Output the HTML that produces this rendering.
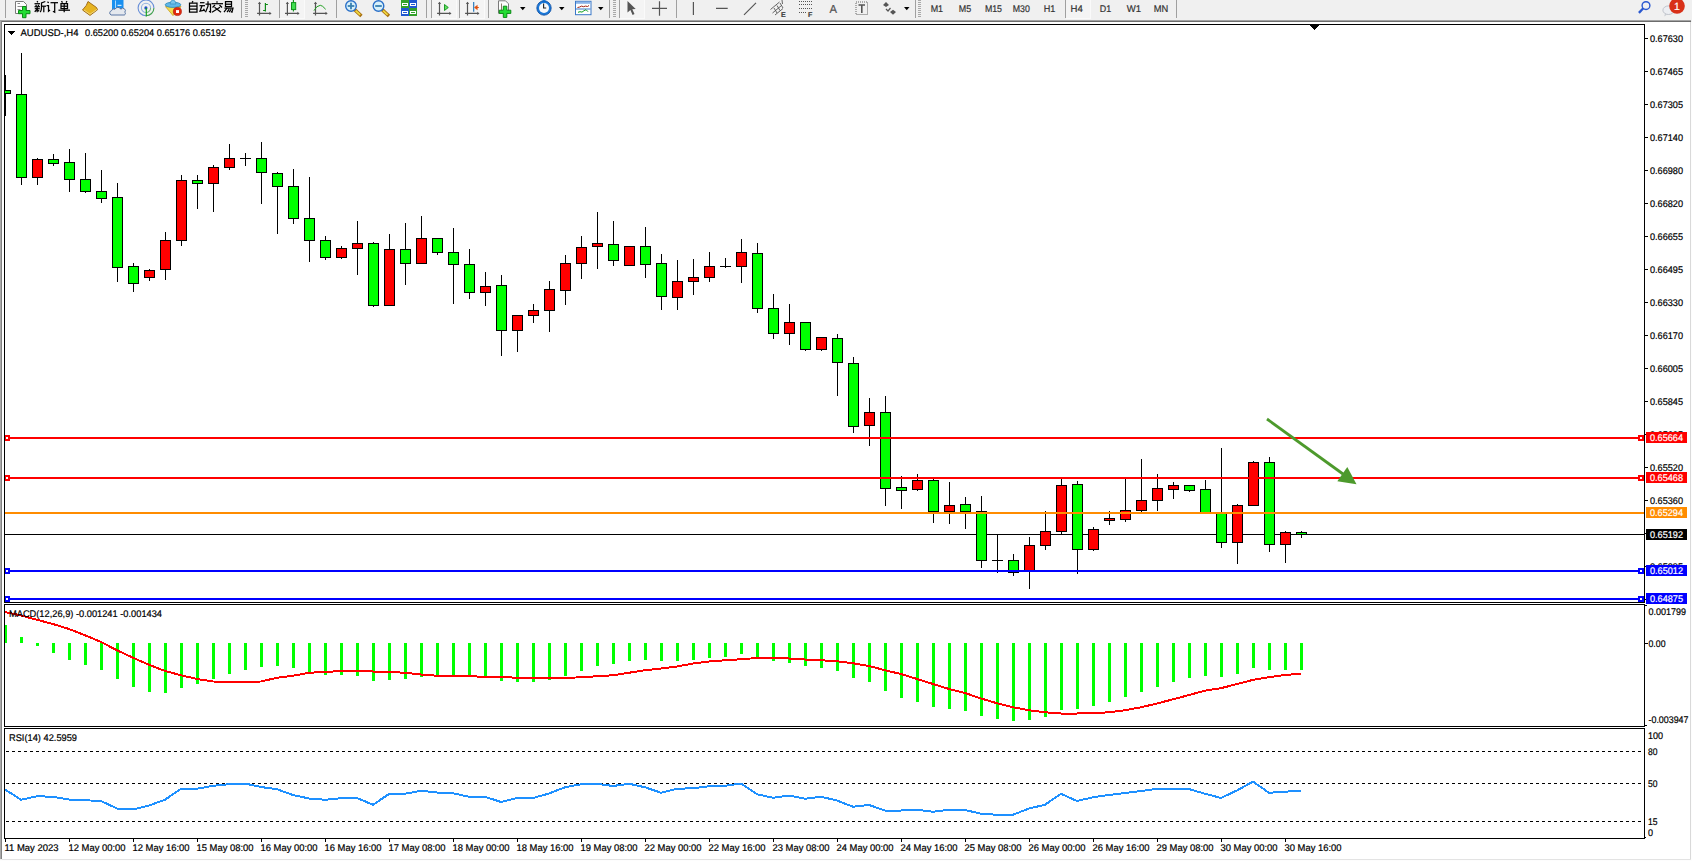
<!DOCTYPE html>
<html><head><meta charset="utf-8"><style>
html,body{margin:0;padding:0;background:#fff;overflow:hidden}
svg{display:block;font-family:"Liberation Sans",sans-serif}
text{stroke-width:0.2px;text-rendering:geometricPrecision}
</style></head><body>
<svg width="1692" height="861" viewBox="0 0 1692 861" shape-rendering="crispEdges">
<rect x="0" y="0" width="1692" height="861" fill="#f0f0f0"/>
<rect x="2" y="22" width="1688" height="837" fill="#ffffff"/>
<rect x="0" y="20" width="1691" height="1" fill="#a4a4a4"/>
<rect x="0" y="21" width="1691" height="1" fill="#6c6c6c"/>
<rect x="0" y="21" width="1" height="838" fill="#aaaaaa"/>
<rect x="1" y="21" width="1" height="838" fill="#828282"/>
<rect x="1690" y="22" width="1" height="838" fill="#d9d9d9"/>
<rect x="2" y="859" width="1689" height="1" fill="#e3e3e3"/>
<rect x="1691" y="22" width="1" height="839" fill="#fdfdfd"/>
<rect x="0" y="860" width="1692" height="1" fill="#fdfdfd"/>
<defs><clipPath id="cm"><rect x="5" y="25" width="1639" height="577"/></clipPath><clipPath id="cd"><rect x="5" y="605" width="1639" height="121"/></clipPath><clipPath id="cr"><rect x="5" y="729" width="1639" height="109"/></clipPath></defs>
<g clip-path="url(#cm)">
<rect x="5" y="534" width="1639" height="1" fill="#000"/>
<rect x="5" y="75" width="1" height="15" fill="#000"/>
<rect x="5" y="94" width="1" height="22" fill="#000"/>
<rect x="0" y="90" width="11" height="4" fill="#000"/>
<rect x="1" y="91" width="9" height="2" fill="#00ff00"/>
<rect x="21" y="53" width="1" height="41" fill="#000"/>
<rect x="21" y="178" width="1" height="7" fill="#000"/>
<rect x="16" y="94" width="11" height="84" fill="#000"/>
<rect x="17" y="95" width="9" height="82" fill="#00ff00"/>
<rect x="37" y="158" width="1" height="1" fill="#000"/>
<rect x="37" y="178" width="1" height="7" fill="#000"/>
<rect x="32" y="159" width="11" height="19" fill="#000"/>
<rect x="33" y="160" width="9" height="17" fill="#ff0000"/>
<rect x="53" y="154" width="1" height="5" fill="#000"/>
<rect x="53" y="164" width="1" height="2" fill="#000"/>
<rect x="48" y="159" width="11" height="5" fill="#000"/>
<rect x="49" y="160" width="9" height="3" fill="#00ff00"/>
<rect x="69" y="149" width="1" height="13" fill="#000"/>
<rect x="69" y="180" width="1" height="12" fill="#000"/>
<rect x="64" y="162" width="11" height="18" fill="#000"/>
<rect x="65" y="163" width="9" height="16" fill="#00ff00"/>
<rect x="85" y="153" width="1" height="26" fill="#000"/>
<rect x="85" y="192" width="1" height="1" fill="#000"/>
<rect x="80" y="179" width="11" height="13" fill="#000"/>
<rect x="81" y="180" width="9" height="11" fill="#00ff00"/>
<rect x="101" y="170" width="1" height="21" fill="#000"/>
<rect x="101" y="199" width="1" height="4" fill="#000"/>
<rect x="96" y="191" width="11" height="8" fill="#000"/>
<rect x="97" y="192" width="9" height="6" fill="#00ff00"/>
<rect x="117" y="183" width="1" height="14" fill="#000"/>
<rect x="117" y="268" width="1" height="14" fill="#000"/>
<rect x="112" y="197" width="11" height="71" fill="#000"/>
<rect x="113" y="198" width="9" height="69" fill="#00ff00"/>
<rect x="133" y="263" width="1" height="3" fill="#000"/>
<rect x="133" y="284" width="1" height="8" fill="#000"/>
<rect x="128" y="266" width="11" height="18" fill="#000"/>
<rect x="129" y="267" width="9" height="16" fill="#00ff00"/>
<rect x="149" y="269" width="1" height="1" fill="#000"/>
<rect x="149" y="278" width="1" height="3" fill="#000"/>
<rect x="144" y="270" width="11" height="8" fill="#000"/>
<rect x="145" y="271" width="9" height="6" fill="#ff0000"/>
<rect x="165" y="232" width="1" height="8" fill="#000"/>
<rect x="165" y="270" width="1" height="10" fill="#000"/>
<rect x="160" y="240" width="11" height="30" fill="#000"/>
<rect x="161" y="241" width="9" height="28" fill="#ff0000"/>
<rect x="181" y="175" width="1" height="5" fill="#000"/>
<rect x="181" y="241" width="1" height="5" fill="#000"/>
<rect x="176" y="180" width="11" height="61" fill="#000"/>
<rect x="177" y="181" width="9" height="59" fill="#ff0000"/>
<rect x="197" y="175" width="1" height="5" fill="#000"/>
<rect x="197" y="184" width="1" height="25" fill="#000"/>
<rect x="192" y="180" width="11" height="4" fill="#000"/>
<rect x="193" y="181" width="9" height="2" fill="#00ff00"/>
<rect x="213" y="165" width="1" height="2" fill="#000"/>
<rect x="213" y="184" width="1" height="28" fill="#000"/>
<rect x="208" y="167" width="11" height="17" fill="#000"/>
<rect x="209" y="168" width="9" height="15" fill="#ff0000"/>
<rect x="229" y="144" width="1" height="14" fill="#000"/>
<rect x="229" y="168" width="1" height="2" fill="#000"/>
<rect x="224" y="158" width="11" height="10" fill="#000"/>
<rect x="225" y="159" width="9" height="8" fill="#ff0000"/>
<rect x="245" y="153" width="1" height="13" fill="#000"/>
<rect x="240" y="158" width="11" height="1" fill="#000"/>
<rect x="261" y="142" width="1" height="16" fill="#000"/>
<rect x="261" y="173" width="1" height="31" fill="#000"/>
<rect x="256" y="158" width="11" height="15" fill="#000"/>
<rect x="257" y="159" width="9" height="13" fill="#00ff00"/>
<rect x="277" y="172" width="1" height="1" fill="#000"/>
<rect x="277" y="187" width="1" height="47" fill="#000"/>
<rect x="272" y="173" width="11" height="14" fill="#000"/>
<rect x="273" y="174" width="9" height="12" fill="#00ff00"/>
<rect x="293" y="169" width="1" height="17" fill="#000"/>
<rect x="293" y="219" width="1" height="5" fill="#000"/>
<rect x="288" y="186" width="11" height="33" fill="#000"/>
<rect x="289" y="187" width="9" height="31" fill="#00ff00"/>
<rect x="309" y="177" width="1" height="41" fill="#000"/>
<rect x="309" y="241" width="1" height="21" fill="#000"/>
<rect x="304" y="218" width="11" height="23" fill="#000"/>
<rect x="305" y="219" width="9" height="21" fill="#00ff00"/>
<rect x="325" y="236" width="1" height="4" fill="#000"/>
<rect x="325" y="258" width="1" height="2" fill="#000"/>
<rect x="320" y="240" width="11" height="18" fill="#000"/>
<rect x="321" y="241" width="9" height="16" fill="#00ff00"/>
<rect x="341" y="246" width="1" height="2" fill="#000"/>
<rect x="341" y="258" width="1" height="1" fill="#000"/>
<rect x="336" y="248" width="11" height="10" fill="#000"/>
<rect x="337" y="249" width="9" height="8" fill="#ff0000"/>
<rect x="357" y="221" width="1" height="22" fill="#000"/>
<rect x="357" y="249" width="1" height="26" fill="#000"/>
<rect x="352" y="243" width="11" height="6" fill="#000"/>
<rect x="353" y="244" width="9" height="4" fill="#ff0000"/>
<rect x="373" y="242" width="1" height="1" fill="#000"/>
<rect x="373" y="306" width="1" height="1" fill="#000"/>
<rect x="368" y="243" width="11" height="63" fill="#000"/>
<rect x="369" y="244" width="9" height="61" fill="#00ff00"/>
<rect x="389" y="234" width="1" height="15" fill="#000"/>
<rect x="384" y="249" width="11" height="57" fill="#000"/>
<rect x="385" y="250" width="9" height="55" fill="#ff0000"/>
<rect x="405" y="223" width="1" height="26" fill="#000"/>
<rect x="405" y="264" width="1" height="21" fill="#000"/>
<rect x="400" y="249" width="11" height="15" fill="#000"/>
<rect x="401" y="250" width="9" height="13" fill="#00ff00"/>
<rect x="421" y="216" width="1" height="22" fill="#000"/>
<rect x="416" y="238" width="11" height="26" fill="#000"/>
<rect x="417" y="239" width="9" height="24" fill="#ff0000"/>
<rect x="437" y="253" width="1" height="2" fill="#000"/>
<rect x="432" y="238" width="11" height="15" fill="#000"/>
<rect x="433" y="239" width="9" height="13" fill="#00ff00"/>
<rect x="453" y="228" width="1" height="24" fill="#000"/>
<rect x="453" y="265" width="1" height="39" fill="#000"/>
<rect x="448" y="252" width="11" height="13" fill="#000"/>
<rect x="449" y="253" width="9" height="11" fill="#00ff00"/>
<rect x="469" y="249" width="1" height="15" fill="#000"/>
<rect x="469" y="293" width="1" height="6" fill="#000"/>
<rect x="464" y="264" width="11" height="29" fill="#000"/>
<rect x="465" y="265" width="9" height="27" fill="#00ff00"/>
<rect x="485" y="272" width="1" height="14" fill="#000"/>
<rect x="485" y="293" width="1" height="13" fill="#000"/>
<rect x="480" y="286" width="11" height="7" fill="#000"/>
<rect x="481" y="287" width="9" height="5" fill="#ff0000"/>
<rect x="501" y="275" width="1" height="10" fill="#000"/>
<rect x="501" y="331" width="1" height="25" fill="#000"/>
<rect x="496" y="285" width="11" height="46" fill="#000"/>
<rect x="497" y="286" width="9" height="44" fill="#00ff00"/>
<rect x="517" y="331" width="1" height="21" fill="#000"/>
<rect x="512" y="315" width="11" height="16" fill="#000"/>
<rect x="513" y="316" width="9" height="14" fill="#ff0000"/>
<rect x="533" y="304" width="1" height="6" fill="#000"/>
<rect x="533" y="316" width="1" height="7" fill="#000"/>
<rect x="528" y="310" width="11" height="6" fill="#000"/>
<rect x="529" y="311" width="9" height="4" fill="#ff0000"/>
<rect x="549" y="281" width="1" height="8" fill="#000"/>
<rect x="549" y="311" width="1" height="21" fill="#000"/>
<rect x="544" y="289" width="11" height="22" fill="#000"/>
<rect x="545" y="290" width="9" height="20" fill="#ff0000"/>
<rect x="565" y="255" width="1" height="8" fill="#000"/>
<rect x="565" y="291" width="1" height="14" fill="#000"/>
<rect x="560" y="263" width="11" height="28" fill="#000"/>
<rect x="561" y="264" width="9" height="26" fill="#ff0000"/>
<rect x="581" y="236" width="1" height="11" fill="#000"/>
<rect x="581" y="264" width="1" height="15" fill="#000"/>
<rect x="576" y="247" width="11" height="17" fill="#000"/>
<rect x="577" y="248" width="9" height="15" fill="#ff0000"/>
<rect x="597" y="212" width="1" height="31" fill="#000"/>
<rect x="597" y="247" width="1" height="22" fill="#000"/>
<rect x="592" y="243" width="11" height="4" fill="#000"/>
<rect x="593" y="244" width="9" height="2" fill="#ff0000"/>
<rect x="613" y="221" width="1" height="23" fill="#000"/>
<rect x="613" y="261" width="1" height="5" fill="#000"/>
<rect x="608" y="244" width="11" height="17" fill="#000"/>
<rect x="609" y="245" width="9" height="15" fill="#00ff00"/>
<rect x="624" y="246" width="11" height="20" fill="#000"/>
<rect x="625" y="247" width="9" height="18" fill="#ff0000"/>
<rect x="645" y="227" width="1" height="19" fill="#000"/>
<rect x="645" y="265" width="1" height="13" fill="#000"/>
<rect x="640" y="246" width="11" height="19" fill="#000"/>
<rect x="641" y="247" width="9" height="17" fill="#00ff00"/>
<rect x="661" y="254" width="1" height="9" fill="#000"/>
<rect x="661" y="297" width="1" height="13" fill="#000"/>
<rect x="656" y="263" width="11" height="34" fill="#000"/>
<rect x="657" y="264" width="9" height="32" fill="#00ff00"/>
<rect x="677" y="260" width="1" height="21" fill="#000"/>
<rect x="677" y="298" width="1" height="12" fill="#000"/>
<rect x="672" y="281" width="11" height="17" fill="#000"/>
<rect x="673" y="282" width="9" height="15" fill="#ff0000"/>
<rect x="693" y="259" width="1" height="18" fill="#000"/>
<rect x="693" y="282" width="1" height="13" fill="#000"/>
<rect x="688" y="277" width="11" height="5" fill="#000"/>
<rect x="689" y="278" width="9" height="3" fill="#ff0000"/>
<rect x="709" y="252" width="1" height="14" fill="#000"/>
<rect x="709" y="278" width="1" height="4" fill="#000"/>
<rect x="704" y="266" width="11" height="12" fill="#000"/>
<rect x="705" y="267" width="9" height="10" fill="#ff0000"/>
<rect x="725" y="258" width="1" height="10" fill="#000"/>
<rect x="720" y="266" width="11" height="1" fill="#000"/>
<rect x="741" y="239" width="1" height="13" fill="#000"/>
<rect x="741" y="267" width="1" height="16" fill="#000"/>
<rect x="736" y="252" width="11" height="15" fill="#000"/>
<rect x="737" y="253" width="9" height="13" fill="#ff0000"/>
<rect x="757" y="243" width="1" height="10" fill="#000"/>
<rect x="757" y="309" width="1" height="4" fill="#000"/>
<rect x="752" y="253" width="11" height="56" fill="#000"/>
<rect x="753" y="254" width="9" height="54" fill="#00ff00"/>
<rect x="773" y="294" width="1" height="14" fill="#000"/>
<rect x="773" y="334" width="1" height="5" fill="#000"/>
<rect x="768" y="308" width="11" height="26" fill="#000"/>
<rect x="769" y="309" width="9" height="24" fill="#00ff00"/>
<rect x="789" y="304" width="1" height="18" fill="#000"/>
<rect x="789" y="334" width="1" height="11" fill="#000"/>
<rect x="784" y="322" width="11" height="12" fill="#000"/>
<rect x="785" y="323" width="9" height="10" fill="#ff0000"/>
<rect x="805" y="350" width="1" height="1" fill="#000"/>
<rect x="800" y="322" width="11" height="28" fill="#000"/>
<rect x="801" y="323" width="9" height="26" fill="#00ff00"/>
<rect x="821" y="350" width="1" height="1" fill="#000"/>
<rect x="816" y="337" width="11" height="13" fill="#000"/>
<rect x="817" y="338" width="9" height="11" fill="#ff0000"/>
<rect x="837" y="334" width="1" height="4" fill="#000"/>
<rect x="837" y="363" width="1" height="33" fill="#000"/>
<rect x="832" y="338" width="11" height="25" fill="#000"/>
<rect x="833" y="339" width="9" height="23" fill="#00ff00"/>
<rect x="853" y="357" width="1" height="6" fill="#000"/>
<rect x="853" y="427" width="1" height="6" fill="#000"/>
<rect x="848" y="363" width="11" height="64" fill="#000"/>
<rect x="849" y="364" width="9" height="62" fill="#00ff00"/>
<rect x="869" y="398" width="1" height="14" fill="#000"/>
<rect x="869" y="426" width="1" height="20" fill="#000"/>
<rect x="864" y="412" width="11" height="14" fill="#000"/>
<rect x="865" y="413" width="9" height="12" fill="#ff0000"/>
<rect x="885" y="396" width="1" height="16" fill="#000"/>
<rect x="885" y="489" width="1" height="17" fill="#000"/>
<rect x="880" y="412" width="11" height="77" fill="#000"/>
<rect x="881" y="413" width="9" height="75" fill="#00ff00"/>
<rect x="901" y="476" width="1" height="11" fill="#000"/>
<rect x="901" y="491" width="1" height="18" fill="#000"/>
<rect x="896" y="487" width="11" height="4" fill="#000"/>
<rect x="897" y="488" width="9" height="2" fill="#00ff00"/>
<rect x="917" y="474" width="1" height="6" fill="#000"/>
<rect x="917" y="490" width="1" height="1" fill="#000"/>
<rect x="912" y="480" width="11" height="10" fill="#000"/>
<rect x="913" y="481" width="9" height="8" fill="#ff0000"/>
<rect x="933" y="479" width="1" height="1" fill="#000"/>
<rect x="933" y="512" width="1" height="11" fill="#000"/>
<rect x="928" y="480" width="11" height="32" fill="#000"/>
<rect x="929" y="481" width="9" height="30" fill="#00ff00"/>
<rect x="949" y="482" width="1" height="23" fill="#000"/>
<rect x="949" y="512" width="1" height="12" fill="#000"/>
<rect x="944" y="505" width="11" height="7" fill="#000"/>
<rect x="945" y="506" width="9" height="5" fill="#ff0000"/>
<rect x="965" y="497" width="1" height="7" fill="#000"/>
<rect x="965" y="512" width="1" height="17" fill="#000"/>
<rect x="960" y="504" width="11" height="8" fill="#000"/>
<rect x="961" y="505" width="9" height="6" fill="#00ff00"/>
<rect x="981" y="496" width="1" height="15" fill="#000"/>
<rect x="981" y="561" width="1" height="7" fill="#000"/>
<rect x="976" y="511" width="11" height="50" fill="#000"/>
<rect x="977" y="512" width="9" height="48" fill="#00ff00"/>
<rect x="997" y="534" width="1" height="39" fill="#000"/>
<rect x="992" y="560" width="11" height="1" fill="#000"/>
<rect x="1013" y="554" width="1" height="6" fill="#000"/>
<rect x="1013" y="573" width="1" height="3" fill="#000"/>
<rect x="1008" y="560" width="11" height="13" fill="#000"/>
<rect x="1009" y="561" width="9" height="11" fill="#00ff00"/>
<rect x="1029" y="537" width="1" height="8" fill="#000"/>
<rect x="1029" y="571" width="1" height="18" fill="#000"/>
<rect x="1024" y="545" width="11" height="26" fill="#000"/>
<rect x="1025" y="546" width="9" height="24" fill="#ff0000"/>
<rect x="1045" y="511" width="1" height="20" fill="#000"/>
<rect x="1045" y="546" width="1" height="4" fill="#000"/>
<rect x="1040" y="531" width="11" height="15" fill="#000"/>
<rect x="1041" y="532" width="9" height="13" fill="#ff0000"/>
<rect x="1061" y="478" width="1" height="7" fill="#000"/>
<rect x="1061" y="532" width="1" height="3" fill="#000"/>
<rect x="1056" y="485" width="11" height="47" fill="#000"/>
<rect x="1057" y="486" width="9" height="45" fill="#ff0000"/>
<rect x="1077" y="481" width="1" height="3" fill="#000"/>
<rect x="1077" y="550" width="1" height="24" fill="#000"/>
<rect x="1072" y="484" width="11" height="66" fill="#000"/>
<rect x="1073" y="485" width="9" height="64" fill="#00ff00"/>
<rect x="1093" y="527" width="1" height="2" fill="#000"/>
<rect x="1093" y="550" width="1" height="1" fill="#000"/>
<rect x="1088" y="529" width="11" height="21" fill="#000"/>
<rect x="1089" y="530" width="9" height="19" fill="#ff0000"/>
<rect x="1109" y="511" width="1" height="7" fill="#000"/>
<rect x="1109" y="521" width="1" height="4" fill="#000"/>
<rect x="1104" y="518" width="11" height="3" fill="#000"/>
<rect x="1105" y="519" width="9" height="1" fill="#ff0000"/>
<rect x="1125" y="479" width="1" height="31" fill="#000"/>
<rect x="1125" y="520" width="1" height="2" fill="#000"/>
<rect x="1120" y="510" width="11" height="10" fill="#000"/>
<rect x="1121" y="511" width="9" height="8" fill="#ff0000"/>
<rect x="1141" y="459" width="1" height="41" fill="#000"/>
<rect x="1141" y="511" width="1" height="1" fill="#000"/>
<rect x="1136" y="500" width="11" height="11" fill="#000"/>
<rect x="1137" y="501" width="9" height="9" fill="#ff0000"/>
<rect x="1157" y="474" width="1" height="14" fill="#000"/>
<rect x="1157" y="501" width="1" height="10" fill="#000"/>
<rect x="1152" y="488" width="11" height="13" fill="#000"/>
<rect x="1153" y="489" width="9" height="11" fill="#ff0000"/>
<rect x="1173" y="482" width="1" height="3" fill="#000"/>
<rect x="1173" y="490" width="1" height="9" fill="#000"/>
<rect x="1168" y="485" width="11" height="5" fill="#000"/>
<rect x="1169" y="486" width="9" height="3" fill="#ff0000"/>
<rect x="1189" y="491" width="1" height="1" fill="#000"/>
<rect x="1184" y="485" width="11" height="6" fill="#000"/>
<rect x="1185" y="486" width="9" height="4" fill="#00ff00"/>
<rect x="1205" y="480" width="1" height="9" fill="#000"/>
<rect x="1200" y="489" width="11" height="24" fill="#000"/>
<rect x="1201" y="490" width="9" height="22" fill="#00ff00"/>
<rect x="1221" y="448" width="1" height="65" fill="#000"/>
<rect x="1221" y="543" width="1" height="5" fill="#000"/>
<rect x="1216" y="513" width="11" height="30" fill="#000"/>
<rect x="1217" y="514" width="9" height="28" fill="#00ff00"/>
<rect x="1237" y="504" width="1" height="1" fill="#000"/>
<rect x="1237" y="543" width="1" height="21" fill="#000"/>
<rect x="1232" y="505" width="11" height="38" fill="#000"/>
<rect x="1233" y="506" width="9" height="36" fill="#ff0000"/>
<rect x="1253" y="461" width="1" height="1" fill="#000"/>
<rect x="1248" y="462" width="11" height="44" fill="#000"/>
<rect x="1249" y="463" width="9" height="42" fill="#ff0000"/>
<rect x="1269" y="457" width="1" height="5" fill="#000"/>
<rect x="1269" y="545" width="1" height="7" fill="#000"/>
<rect x="1264" y="462" width="11" height="83" fill="#000"/>
<rect x="1265" y="463" width="9" height="81" fill="#00ff00"/>
<rect x="1285" y="531" width="1" height="1" fill="#000"/>
<rect x="1285" y="545" width="1" height="18" fill="#000"/>
<rect x="1280" y="532" width="11" height="13" fill="#000"/>
<rect x="1281" y="533" width="9" height="11" fill="#ff0000"/>
<rect x="1301" y="531" width="1" height="1" fill="#000"/>
<rect x="1301" y="535" width="1" height="3" fill="#000"/>
<rect x="1296" y="532" width="11" height="3" fill="#000"/>
<rect x="1297" y="533" width="9" height="1" fill="#00ff00"/>
<rect x="5" y="437" width="1639" height="2" fill="#ff0000"/>
<rect x="5" y="477" width="1639" height="2" fill="#ff0000"/>
<rect x="5" y="512" width="1639" height="2" fill="#ff8c00"/>
<rect x="5" y="570" width="1639" height="2" fill="#0000ff"/>
<rect x="5" y="598" width="1639" height="2" fill="#0000ff"/>
</g>
<rect x="4" y="435" width="6" height="6" fill="#ff0000"/>
<rect x="6" y="437" width="2" height="2" fill="#fff"/>
<rect x="1638" y="435" width="6" height="6" fill="#ff0000"/>
<rect x="1640" y="437" width="2" height="2" fill="#fff"/>
<rect x="4" y="475" width="6" height="6" fill="#ff0000"/>
<rect x="6" y="477" width="2" height="2" fill="#fff"/>
<rect x="1638" y="475" width="6" height="6" fill="#ff0000"/>
<rect x="1640" y="477" width="2" height="2" fill="#fff"/>
<rect x="4" y="568" width="6" height="6" fill="#0000ff"/>
<rect x="6" y="570" width="2" height="2" fill="#fff"/>
<rect x="1638" y="568" width="6" height="6" fill="#0000ff"/>
<rect x="1640" y="570" width="2" height="2" fill="#fff"/>
<rect x="4" y="596" width="6" height="6" fill="#0000ff"/>
<rect x="6" y="598" width="2" height="2" fill="#fff"/>
<rect x="1638" y="596" width="6" height="6" fill="#0000ff"/>
<rect x="1640" y="598" width="2" height="2" fill="#fff"/>
<rect x="4" y="24" width="1641" height="1" fill="#000"/>
<rect x="4" y="602" width="1641" height="1" fill="#000"/>
<rect x="4" y="24" width="1" height="579" fill="#000"/>
<rect x="1644" y="24" width="1" height="579" fill="#000"/>
<line x1="1267" y1="419" x2="1343" y2="474" stroke="#4d9a2c" stroke-width="2.8" shape-rendering="geometricPrecision"/>
<polygon points="1347.3,467 1337.3,481.3 1356.5,484.2" fill="#4d9a2c" shape-rendering="geometricPrecision"/>
<polygon points="1309.5,25 1319.5,25 1314.5,30" fill="#000"/>
<polygon points="8,31 15,31 11.5,35" fill="#000"/>
<text x="20.5" y="35.5" font-size="9.7" fill="#000" stroke="#000" textLength="58" lengthAdjust="spacingAndGlyphs">AUDUSD-,H4</text>
<text x="85" y="35.5" font-size="9.7" fill="#000" stroke="#000" textLength="141" lengthAdjust="spacingAndGlyphs">0.65200 0.65204 0.65176 0.65192</text>
<rect x="1645" y="38" width="3" height="1" fill="#000"/>
<text x="1650" y="42" font-size="9.7" fill="#000" stroke="#000" textLength="33" lengthAdjust="spacingAndGlyphs">0.67630</text>
<rect x="1645" y="71" width="3" height="1" fill="#000"/>
<text x="1650" y="75" font-size="9.7" fill="#000" stroke="#000" textLength="33" lengthAdjust="spacingAndGlyphs">0.67465</text>
<rect x="1645" y="104" width="3" height="1" fill="#000"/>
<text x="1650" y="108" font-size="9.7" fill="#000" stroke="#000" textLength="33" lengthAdjust="spacingAndGlyphs">0.67305</text>
<rect x="1645" y="137" width="3" height="1" fill="#000"/>
<text x="1650" y="141" font-size="9.7" fill="#000" stroke="#000" textLength="33" lengthAdjust="spacingAndGlyphs">0.67140</text>
<rect x="1645" y="170" width="3" height="1" fill="#000"/>
<text x="1650" y="174" font-size="9.7" fill="#000" stroke="#000" textLength="33" lengthAdjust="spacingAndGlyphs">0.66980</text>
<rect x="1645" y="203" width="3" height="1" fill="#000"/>
<text x="1650" y="207" font-size="9.7" fill="#000" stroke="#000" textLength="33" lengthAdjust="spacingAndGlyphs">0.66820</text>
<rect x="1645" y="236" width="3" height="1" fill="#000"/>
<text x="1650" y="240" font-size="9.7" fill="#000" stroke="#000" textLength="33" lengthAdjust="spacingAndGlyphs">0.66655</text>
<rect x="1645" y="269" width="3" height="1" fill="#000"/>
<text x="1650" y="273" font-size="9.7" fill="#000" stroke="#000" textLength="33" lengthAdjust="spacingAndGlyphs">0.66495</text>
<rect x="1645" y="302" width="3" height="1" fill="#000"/>
<text x="1650" y="306" font-size="9.7" fill="#000" stroke="#000" textLength="33" lengthAdjust="spacingAndGlyphs">0.66330</text>
<rect x="1645" y="335" width="3" height="1" fill="#000"/>
<text x="1650" y="339" font-size="9.7" fill="#000" stroke="#000" textLength="33" lengthAdjust="spacingAndGlyphs">0.66170</text>
<rect x="1645" y="368" width="3" height="1" fill="#000"/>
<text x="1650" y="372" font-size="9.7" fill="#000" stroke="#000" textLength="33" lengthAdjust="spacingAndGlyphs">0.66005</text>
<rect x="1645" y="401" width="3" height="1" fill="#000"/>
<text x="1650" y="405" font-size="9.7" fill="#000" stroke="#000" textLength="33" lengthAdjust="spacingAndGlyphs">0.65845</text>
<rect x="1645" y="434" width="3" height="1" fill="#000"/>
<text x="1650" y="438" font-size="9.7" fill="#000" stroke="#000" textLength="33" lengthAdjust="spacingAndGlyphs">0.65685</text>
<rect x="1645" y="467" width="3" height="1" fill="#000"/>
<text x="1650" y="471" font-size="9.7" fill="#000" stroke="#000" textLength="33" lengthAdjust="spacingAndGlyphs">0.65520</text>
<rect x="1645" y="500" width="3" height="1" fill="#000"/>
<text x="1650" y="504" font-size="9.7" fill="#000" stroke="#000" textLength="33" lengthAdjust="spacingAndGlyphs">0.65360</text>
<rect x="1645" y="533" width="3" height="1" fill="#000"/>
<text x="1650" y="537" font-size="9.7" fill="#000" stroke="#000" textLength="33" lengthAdjust="spacingAndGlyphs">0.65195</text>
<rect x="1645" y="566" width="3" height="1" fill="#000"/>
<text x="1650" y="570" font-size="9.7" fill="#000" stroke="#000" textLength="33" lengthAdjust="spacingAndGlyphs">0.65035</text>
<rect x="1645" y="599" width="3" height="1" fill="#000"/>
<text x="1650" y="603" font-size="9.7" fill="#000" stroke="#000" textLength="33" lengthAdjust="spacingAndGlyphs">0.64875</text>
<rect x="1646" y="432" width="41" height="11" fill="#ff0000"/>
<text x="1650" y="440.5" font-size="9.7" fill="#fff" stroke="#fff" textLength="33" lengthAdjust="spacingAndGlyphs">0.65664</text>
<rect x="1646" y="472" width="41" height="11" fill="#ff0000"/>
<text x="1650" y="480.5" font-size="9.7" fill="#fff" stroke="#fff" textLength="33" lengthAdjust="spacingAndGlyphs">0.65468</text>
<rect x="1646" y="507" width="41" height="11" fill="#ff8c00"/>
<text x="1650" y="515.5" font-size="9.7" fill="#fff" stroke="#fff" textLength="33" lengthAdjust="spacingAndGlyphs">0.65294</text>
<rect x="1646" y="529" width="41" height="11" fill="#000000"/>
<text x="1650" y="537.5" font-size="9.7" fill="#fff" stroke="#fff" textLength="33" lengthAdjust="spacingAndGlyphs">0.65192</text>
<rect x="1646" y="565" width="41" height="11" fill="#0000ff"/>
<text x="1650" y="573.5" font-size="9.7" fill="#fff" stroke="#fff" textLength="33" lengthAdjust="spacingAndGlyphs">0.65012</text>
<rect x="1646" y="593" width="41" height="11" fill="#0000ff"/>
<text x="1650" y="601.5" font-size="9.7" fill="#fff" stroke="#fff" textLength="33" lengthAdjust="spacingAndGlyphs">0.64875</text>
<rect x="4" y="604" width="1641" height="1" fill="#000"/>
<rect x="4" y="726" width="1641" height="1" fill="#000"/>
<rect x="4" y="604" width="1" height="123" fill="#000"/>
<rect x="1644" y="604" width="1" height="123" fill="#000"/>
<g clip-path="url(#cd)">
<rect x="4" y="625" width="3" height="18" fill="#00ff00"/>
<rect x="20" y="637" width="3" height="6" fill="#00ff00"/>
<rect x="36" y="643" width="3" height="3" fill="#00ff00"/>
<rect x="52" y="643" width="3" height="10" fill="#00ff00"/>
<rect x="68" y="643" width="3" height="17" fill="#00ff00"/>
<rect x="84" y="643" width="3" height="22" fill="#00ff00"/>
<rect x="100" y="643" width="3" height="27" fill="#00ff00"/>
<rect x="116" y="643" width="3" height="36" fill="#00ff00"/>
<rect x="132" y="643" width="3" height="44" fill="#00ff00"/>
<rect x="148" y="643" width="3" height="49" fill="#00ff00"/>
<rect x="164" y="643" width="3" height="50" fill="#00ff00"/>
<rect x="180" y="643" width="3" height="45" fill="#00ff00"/>
<rect x="196" y="643" width="3" height="41" fill="#00ff00"/>
<rect x="212" y="643" width="3" height="36" fill="#00ff00"/>
<rect x="228" y="643" width="3" height="31" fill="#00ff00"/>
<rect x="244" y="643" width="3" height="27" fill="#00ff00"/>
<rect x="260" y="643" width="3" height="24" fill="#00ff00"/>
<rect x="276" y="643" width="3" height="23" fill="#00ff00"/>
<rect x="292" y="643" width="3" height="25" fill="#00ff00"/>
<rect x="308" y="643" width="3" height="29" fill="#00ff00"/>
<rect x="324" y="643" width="3" height="32" fill="#00ff00"/>
<rect x="340" y="643" width="3" height="32" fill="#00ff00"/>
<rect x="356" y="643" width="3" height="33" fill="#00ff00"/>
<rect x="372" y="643" width="3" height="38" fill="#00ff00"/>
<rect x="388" y="643" width="3" height="37" fill="#00ff00"/>
<rect x="404" y="643" width="3" height="36" fill="#00ff00"/>
<rect x="420" y="643" width="3" height="34" fill="#00ff00"/>
<rect x="436" y="643" width="3" height="32" fill="#00ff00"/>
<rect x="452" y="643" width="3" height="32" fill="#00ff00"/>
<rect x="468" y="643" width="3" height="32" fill="#00ff00"/>
<rect x="484" y="643" width="3" height="34" fill="#00ff00"/>
<rect x="500" y="643" width="3" height="38" fill="#00ff00"/>
<rect x="516" y="643" width="3" height="39" fill="#00ff00"/>
<rect x="532" y="643" width="3" height="39" fill="#00ff00"/>
<rect x="548" y="643" width="3" height="37" fill="#00ff00"/>
<rect x="564" y="643" width="3" height="33" fill="#00ff00"/>
<rect x="580" y="643" width="3" height="28" fill="#00ff00"/>
<rect x="596" y="643" width="3" height="23" fill="#00ff00"/>
<rect x="612" y="643" width="3" height="21" fill="#00ff00"/>
<rect x="628" y="643" width="3" height="18" fill="#00ff00"/>
<rect x="644" y="643" width="3" height="17" fill="#00ff00"/>
<rect x="660" y="643" width="3" height="18" fill="#00ff00"/>
<rect x="676" y="643" width="3" height="18" fill="#00ff00"/>
<rect x="692" y="643" width="3" height="17" fill="#00ff00"/>
<rect x="708" y="643" width="3" height="15" fill="#00ff00"/>
<rect x="724" y="643" width="3" height="14" fill="#00ff00"/>
<rect x="740" y="643" width="3" height="11" fill="#00ff00"/>
<rect x="756" y="643" width="3" height="14" fill="#00ff00"/>
<rect x="772" y="643" width="3" height="18" fill="#00ff00"/>
<rect x="788" y="643" width="3" height="20" fill="#00ff00"/>
<rect x="804" y="643" width="3" height="23" fill="#00ff00"/>
<rect x="820" y="643" width="3" height="25" fill="#00ff00"/>
<rect x="836" y="643" width="3" height="28" fill="#00ff00"/>
<rect x="852" y="643" width="3" height="35" fill="#00ff00"/>
<rect x="868" y="643" width="3" height="39" fill="#00ff00"/>
<rect x="884" y="643" width="3" height="48" fill="#00ff00"/>
<rect x="900" y="643" width="3" height="55" fill="#00ff00"/>
<rect x="916" y="643" width="3" height="59" fill="#00ff00"/>
<rect x="932" y="643" width="3" height="64" fill="#00ff00"/>
<rect x="948" y="643" width="3" height="66" fill="#00ff00"/>
<rect x="964" y="643" width="3" height="68" fill="#00ff00"/>
<rect x="980" y="643" width="3" height="73" fill="#00ff00"/>
<rect x="996" y="643" width="3" height="76" fill="#00ff00"/>
<rect x="1012" y="643" width="3" height="78" fill="#00ff00"/>
<rect x="1028" y="643" width="3" height="77" fill="#00ff00"/>
<rect x="1044" y="643" width="3" height="74" fill="#00ff00"/>
<rect x="1060" y="643" width="3" height="67" fill="#00ff00"/>
<rect x="1076" y="643" width="3" height="66" fill="#00ff00"/>
<rect x="1092" y="643" width="3" height="63" fill="#00ff00"/>
<rect x="1108" y="643" width="3" height="59" fill="#00ff00"/>
<rect x="1124" y="643" width="3" height="54" fill="#00ff00"/>
<rect x="1140" y="643" width="3" height="49" fill="#00ff00"/>
<rect x="1156" y="643" width="3" height="44" fill="#00ff00"/>
<rect x="1172" y="643" width="3" height="39" fill="#00ff00"/>
<rect x="1188" y="643" width="3" height="35" fill="#00ff00"/>
<rect x="1204" y="643" width="3" height="33" fill="#00ff00"/>
<rect x="1220" y="643" width="3" height="34" fill="#00ff00"/>
<rect x="1236" y="643" width="3" height="31" fill="#00ff00"/>
<rect x="1252" y="643" width="3" height="25" fill="#00ff00"/>
<rect x="1268" y="643" width="3" height="27" fill="#00ff00"/>
<rect x="1284" y="643" width="3" height="27" fill="#00ff00"/>
<rect x="1300" y="643" width="3" height="27" fill="#00ff00"/>
<polyline points="5,612 21,615.5 37,619.75 53,624 69,629 85,635.25 101,642 117,650.25 133,657.75 149,664.75 165,671 181,675.25 197,679 213,681.5 229,681.75 245,681.75 261,681.5 277,677.75 293,675.75 309,672.75 325,672 341,671 357,671 373,671.5 389,672 405,672.75 421,674.5 437,675.75 453,676 469,676 485,677 501,677 517,677.75 533,678 549,678 565,678 581,677.25 597,676.25 613,675.25 629,672.75 645,670.25 661,668.5 677,666.5 693,663.5 709,661.5 725,660.25 741,659.25 757,658 773,657.75 789,658.5 805,659.5 821,660.25 837,661.25 853,663.25 869,666 885,670.25 901,674 917,679 933,684 949,689 965,693 981,698.5 997,703.25 1013,707.25 1029,710.25 1045,712.25 1061,713.5 1077,713.5 1093,713.25 1109,712.25 1125,710.25 1141,707.25 1157,703.5 1173,699.3 1189,695 1205,690.6 1221,688.2 1237,684 1253,679.9 1269,677.2 1285,674.9 1301,673.9" fill="none" stroke="#ff0000" stroke-width="2" shape-rendering="crispEdges"/>
</g>
<text x="9" y="617" font-size="9.7" fill="#000" stroke="#000" textLength="153" lengthAdjust="spacingAndGlyphs">MACD(12,26,9) -0.001241 -0.001434</text>
<rect x="1645" y="605" width="2" height="1" fill="#000"/>
<rect x="1645" y="643" width="3" height="1" fill="#000"/>
<rect x="1645" y="725" width="2" height="1" fill="#000"/>
<text x="1648.5" y="614.7" font-size="9.7" fill="#000" stroke="#000" textLength="37.5" lengthAdjust="spacingAndGlyphs">0.001799</text>
<text x="1648.5" y="646.5" font-size="9.7" fill="#000" stroke="#000" textLength="17" lengthAdjust="spacingAndGlyphs">0.00</text>
<text x="1648.5" y="722.5" font-size="9.7" fill="#000" stroke="#000" textLength="40" lengthAdjust="spacingAndGlyphs">-0.003947</text>
<rect x="4" y="728" width="1641" height="1" fill="#000"/>
<rect x="4" y="838" width="1641" height="1" fill="#000"/>
<rect x="4" y="728" width="1" height="111" fill="#000"/>
<rect x="1644" y="728" width="1" height="111" fill="#000"/>
<g clip-path="url(#cr)">
<line x1="6" y1="751.5" x2="1644" y2="751.5" stroke="#000" stroke-width="1" stroke-dasharray="3,3"/>
<line x1="6" y1="783.5" x2="1644" y2="783.5" stroke="#000" stroke-width="1" stroke-dasharray="3,3"/>
<line x1="6" y1="821.5" x2="1644" y2="821.5" stroke="#000" stroke-width="1" stroke-dasharray="3,3"/>
<polyline points="5,789.5 21,799.75 37,796.25 53,796.75 69,799.5 85,800.25 101,801 117,808.5 133,809.5 149,805.5 165,799.75 181,788.75 197,788.75 213,785.75 229,784.25 245,783.5 261,787 277,789.25 293,795 309,798.5 325,799.75 341,798.25 357,798 373,804.75 389,794 405,793.75 421,790.75 437,792.5 453,793.25 469,796.75 485,796.75 501,802 517,798 533,798 549,793.5 565,787.25 581,784.25 597,783.75 613,786 629,783.75 645,787.25 661,792.75 677,788.75 693,788.25 709,786.25 725,785.75 741,783.5 757,794.25 773,797.75 789,795.5 805,798.75 821,796.75 837,800.5 853,806.75 869,805 885,810.5 901,810.5 917,809.75 933,811.75 949,809.75 965,810 981,813.75 997,814.75 1013,814.75 1029,808.5 1045,804.75 1061,793.75 1077,801 1093,797.25 1109,795 1125,793 1141,791 1157,788.8 1173,788.9 1189,789.1 1205,793.7 1221,798 1237,790.4 1253,781.6 1269,792.8 1285,791.7 1301,790.8" fill="none" stroke="#1e90ff" stroke-width="2" shape-rendering="crispEdges"/>
</g>
<text x="9" y="741.2" font-size="9.7" fill="#000" stroke="#000" textLength="68" lengthAdjust="spacingAndGlyphs">RSI(14) 42.5959</text>
<text x="1648" y="739.0" font-size="9.7" fill="#000" stroke="#000" textLength="15" lengthAdjust="spacingAndGlyphs">100</text>
<text x="1648" y="755.0" font-size="9.7" fill="#000" stroke="#000" textLength="9.5" lengthAdjust="spacingAndGlyphs">80</text>
<text x="1648" y="787.0" font-size="9.7" fill="#000" stroke="#000" textLength="9.5" lengthAdjust="spacingAndGlyphs">50</text>
<text x="1648" y="825.0" font-size="9.7" fill="#000" stroke="#000" textLength="9.5" lengthAdjust="spacingAndGlyphs">15</text>
<text x="1648" y="835.5" font-size="9.7" fill="#000" stroke="#000" textLength="5" lengthAdjust="spacingAndGlyphs">0</text>
<rect x="1645" y="837" width="1" height="1" fill="#000"/>
<rect x="5" y="839" width="1" height="3" fill="#000"/>
<text x="4.5" y="850.6" font-size="9.7" fill="#000" stroke="#000" textLength="54" lengthAdjust="spacingAndGlyphs">11 May 2023</text>
<rect x="69" y="839" width="1" height="3" fill="#000"/>
<text x="68.5" y="850.6" font-size="9.7" fill="#000" stroke="#000" textLength="57" lengthAdjust="spacingAndGlyphs">12 May 00:00</text>
<rect x="133" y="839" width="1" height="3" fill="#000"/>
<text x="132.5" y="850.6" font-size="9.7" fill="#000" stroke="#000" textLength="57" lengthAdjust="spacingAndGlyphs">12 May 16:00</text>
<rect x="197" y="839" width="1" height="3" fill="#000"/>
<text x="196.5" y="850.6" font-size="9.7" fill="#000" stroke="#000" textLength="57" lengthAdjust="spacingAndGlyphs">15 May 08:00</text>
<rect x="261" y="839" width="1" height="3" fill="#000"/>
<text x="260.5" y="850.6" font-size="9.7" fill="#000" stroke="#000" textLength="57" lengthAdjust="spacingAndGlyphs">16 May 00:00</text>
<rect x="325" y="839" width="1" height="3" fill="#000"/>
<text x="324.5" y="850.6" font-size="9.7" fill="#000" stroke="#000" textLength="57" lengthAdjust="spacingAndGlyphs">16 May 16:00</text>
<rect x="389" y="839" width="1" height="3" fill="#000"/>
<text x="388.5" y="850.6" font-size="9.7" fill="#000" stroke="#000" textLength="57" lengthAdjust="spacingAndGlyphs">17 May 08:00</text>
<rect x="453" y="839" width="1" height="3" fill="#000"/>
<text x="452.5" y="850.6" font-size="9.7" fill="#000" stroke="#000" textLength="57" lengthAdjust="spacingAndGlyphs">18 May 00:00</text>
<rect x="517" y="839" width="1" height="3" fill="#000"/>
<text x="516.5" y="850.6" font-size="9.7" fill="#000" stroke="#000" textLength="57" lengthAdjust="spacingAndGlyphs">18 May 16:00</text>
<rect x="581" y="839" width="1" height="3" fill="#000"/>
<text x="580.5" y="850.6" font-size="9.7" fill="#000" stroke="#000" textLength="57" lengthAdjust="spacingAndGlyphs">19 May 08:00</text>
<rect x="645" y="839" width="1" height="3" fill="#000"/>
<text x="644.5" y="850.6" font-size="9.7" fill="#000" stroke="#000" textLength="57" lengthAdjust="spacingAndGlyphs">22 May 00:00</text>
<rect x="709" y="839" width="1" height="3" fill="#000"/>
<text x="708.5" y="850.6" font-size="9.7" fill="#000" stroke="#000" textLength="57" lengthAdjust="spacingAndGlyphs">22 May 16:00</text>
<rect x="773" y="839" width="1" height="3" fill="#000"/>
<text x="772.5" y="850.6" font-size="9.7" fill="#000" stroke="#000" textLength="57" lengthAdjust="spacingAndGlyphs">23 May 08:00</text>
<rect x="837" y="839" width="1" height="3" fill="#000"/>
<text x="836.5" y="850.6" font-size="9.7" fill="#000" stroke="#000" textLength="57" lengthAdjust="spacingAndGlyphs">24 May 00:00</text>
<rect x="901" y="839" width="1" height="3" fill="#000"/>
<text x="900.5" y="850.6" font-size="9.7" fill="#000" stroke="#000" textLength="57" lengthAdjust="spacingAndGlyphs">24 May 16:00</text>
<rect x="965" y="839" width="1" height="3" fill="#000"/>
<text x="964.5" y="850.6" font-size="9.7" fill="#000" stroke="#000" textLength="57" lengthAdjust="spacingAndGlyphs">25 May 08:00</text>
<rect x="1029" y="839" width="1" height="3" fill="#000"/>
<text x="1028.5" y="850.6" font-size="9.7" fill="#000" stroke="#000" textLength="57" lengthAdjust="spacingAndGlyphs">26 May 00:00</text>
<rect x="1093" y="839" width="1" height="3" fill="#000"/>
<text x="1092.5" y="850.6" font-size="9.7" fill="#000" stroke="#000" textLength="57" lengthAdjust="spacingAndGlyphs">26 May 16:00</text>
<rect x="1157" y="839" width="1" height="3" fill="#000"/>
<text x="1156.5" y="850.6" font-size="9.7" fill="#000" stroke="#000" textLength="57" lengthAdjust="spacingAndGlyphs">29 May 08:00</text>
<rect x="1221" y="839" width="1" height="3" fill="#000"/>
<text x="1220.5" y="850.6" font-size="9.7" fill="#000" stroke="#000" textLength="57" lengthAdjust="spacingAndGlyphs">30 May 00:00</text>
<rect x="1285" y="839" width="1" height="3" fill="#000"/>
<text x="1284.5" y="850.6" font-size="9.7" fill="#000" stroke="#000" textLength="57" lengthAdjust="spacingAndGlyphs">30 May 16:00</text>
<g shape-rendering="crispEdges">
<rect x="280" y="0" width="24" height="18" fill="#f4f4f4"/>
<rect x="280" y="18" width="25" height="1" fill="#fafafa"/>
<rect x="304" y="0" width="1" height="19" fill="#fafafa"/>
<rect x="432" y="0" width="24" height="18" fill="#f4f4f4"/>
<rect x="432" y="18" width="25" height="1" fill="#fafafa"/>
<rect x="456" y="0" width="1" height="19" fill="#fafafa"/>
<rect x="460" y="0" width="24" height="18" fill="#f4f4f4"/>
<rect x="460" y="18" width="25" height="1" fill="#fafafa"/>
<rect x="484" y="0" width="1" height="19" fill="#fafafa"/>
<rect x="620" y="0" width="24" height="18" fill="#f4f4f4"/>
<rect x="620" y="18" width="25" height="1" fill="#fafafa"/>
<rect x="644" y="0" width="1" height="19" fill="#fafafa"/>
<rect x="1066" y="0" width="24" height="18" fill="#f4f4f4"/>
<rect x="1066" y="18" width="25" height="1" fill="#fafafa"/>
<rect x="1090" y="0" width="1" height="19" fill="#fafafa"/>
<rect x="5" y="0" width="1" height="18" fill="#a0a0a0"/>
<rect x="241" y="0" width="1" height="18" fill="#a0a0a0"/>
<rect x="279" y="0" width="1" height="18" fill="#a0a0a0"/>
<rect x="336" y="0" width="1" height="18" fill="#a0a0a0"/>
<rect x="426" y="0" width="1" height="18" fill="#a0a0a0"/>
<rect x="431" y="0" width="1" height="18" fill="#a0a0a0"/>
<rect x="459" y="0" width="1" height="18" fill="#a0a0a0"/>
<rect x="488" y="0" width="1" height="18" fill="#a0a0a0"/>
<rect x="609" y="0" width="1" height="18" fill="#a0a0a0"/>
<rect x="619" y="0" width="1" height="18" fill="#a0a0a0"/>
<rect x="676" y="0" width="1" height="18" fill="#a0a0a0"/>
<rect x="915" y="0" width="1" height="18" fill="#a0a0a0"/>
<rect x="1065" y="0" width="1" height="18" fill="#a0a0a0"/>
<rect x="1176" y="0" width="1" height="18" fill="#a0a0a0"/>
<rect x="245" y="0" width="3" height="1" fill="#a8a8a8"/>
<rect x="245" y="2" width="3" height="1" fill="#a8a8a8"/>
<rect x="245" y="4" width="3" height="1" fill="#a8a8a8"/>
<rect x="245" y="6" width="3" height="1" fill="#a8a8a8"/>
<rect x="245" y="8" width="3" height="1" fill="#a8a8a8"/>
<rect x="245" y="10" width="3" height="1" fill="#a8a8a8"/>
<rect x="245" y="12" width="3" height="1" fill="#a8a8a8"/>
<rect x="245" y="14" width="3" height="1" fill="#a8a8a8"/>
<rect x="245" y="16" width="3" height="1" fill="#a8a8a8"/>
<rect x="613" y="0" width="3" height="1" fill="#a8a8a8"/>
<rect x="613" y="2" width="3" height="1" fill="#a8a8a8"/>
<rect x="613" y="4" width="3" height="1" fill="#a8a8a8"/>
<rect x="613" y="6" width="3" height="1" fill="#a8a8a8"/>
<rect x="613" y="8" width="3" height="1" fill="#a8a8a8"/>
<rect x="613" y="10" width="3" height="1" fill="#a8a8a8"/>
<rect x="613" y="12" width="3" height="1" fill="#a8a8a8"/>
<rect x="613" y="14" width="3" height="1" fill="#a8a8a8"/>
<rect x="613" y="16" width="3" height="1" fill="#a8a8a8"/>
<rect x="918" y="0" width="3" height="1" fill="#a8a8a8"/>
<rect x="918" y="2" width="3" height="1" fill="#a8a8a8"/>
<rect x="918" y="4" width="3" height="1" fill="#a8a8a8"/>
<rect x="918" y="6" width="3" height="1" fill="#a8a8a8"/>
<rect x="918" y="8" width="3" height="1" fill="#a8a8a8"/>
<rect x="918" y="10" width="3" height="1" fill="#a8a8a8"/>
<rect x="918" y="12" width="3" height="1" fill="#a8a8a8"/>
<rect x="918" y="14" width="3" height="1" fill="#a8a8a8"/>
<rect x="918" y="16" width="3" height="1" fill="#a8a8a8"/>
</g>
<g shape-rendering="geometricPrecision">
<path d="M15.5,1.5 h8 l3,3 v9 h-11 z" fill="#fdfdfd" stroke="#7a7a7a" stroke-width="1"/>
<path d="M17.5,3.5 h2.5 M17.5,6.5 h6 M17.5,9.5 h3" stroke="#8a8a8a" stroke-width="1"/>
<path d="M22.5,6.5 h3.5 v4 h4 v3.2 h-4 v4 h-3.5 v-4 h-4 v-3.2 h4 z" fill="#22dd33" stroke="#0a8a14" stroke-width="1"/>
<g transform="translate(34.5,1.2)" fill="none" stroke="#000" stroke-width="1.25"><path d="M2.5,0 l0.8,1.2"/><path d="M0,2.5 h5.5"/><path d="M1.2,3.5 l0.8,1.5 M4.3,3.5 l-0.8,1.5"/><path d="M0,5.5 h5.5"/><path d="M0.3,7.5 h5"/><path d="M2.7,5.5 v5.5"/><path d="M2.7,8 l-2.5,2.5 M2.7,8.5 l2,1.5"/><path d="M10.8,0.3 l-3.8,1.4 v4.5 q0,3 -1.2,4.8"/><path d="M7,5 h4.5"/><path d="M9.3,5 v6"/></g>
<g transform="translate(46.5,1.2)" fill="none" stroke="#000" stroke-width="1.25"><path d="M1,0.5 l1.2,1.2"/><path d="M0,4.5 h2 v5.5 l1.5,-1.2"/><path d="M4,1.5 h7.5"/><path d="M8.2,1.5 v9.5 l-1.8,-1"/></g>
<g transform="translate(58.5,1.2)" fill="none" stroke="#000" stroke-width="1.25"><path d="M3,0 l1,1.5 M8.5,0 l-1,1.5"/><path d="M2.5,2.5 h6.5 v5 h-6.5 z"/><path d="M2.5,5 h6.5"/><path d="M5.7,2.5 v8.5"/><path d="M0,9 h11.5"/></g>
<g transform="translate(187.5,1.2)" fill="none" stroke="#000" stroke-width="1.25"><path d="M5.5,0 l-1,1.5"/><path d="M2,2 h7.5 v9 h-7.5 z"/><path d="M2,5 h7.5 M2,8 h7.5"/></g>
<g transform="translate(199.5,1.2)" fill="none" stroke="#000" stroke-width="1.25"><path d="M0.5,1.5 h4.5"/><path d="M0,4.5 h5.5"/><path d="M2.5,4.5 l-2,5.5 l4.5,-1"/><path d="M4,7.5 l1.2,2.5"/><path d="M6,3 h5 v8 l-1.5,-1"/><path d="M8.5,0 v5 l-2.5,6"/></g>
<g transform="translate(211.5,1.2)" fill="none" stroke="#000" stroke-width="1.25"><path d="M5.5,0 v1.5"/><path d="M0,2.5 h11.5"/><path d="M3.5,3.8 l-2.5,2.5 M8,3.8 l2.5,2.5"/><path d="M3,6 l6.5,5 M8.5,6 l-8,5"/></g>
<g transform="translate(223,1.2)" fill="none" stroke="#000" stroke-width="1.25"><path d="M2.5,0.5 h6 v5 h-6 z"/><path d="M2.5,3 h6"/><path d="M1.5,7 h8.5 l-1,4 l-1.2,-0.6"/><path d="M4,7 l-3,4 M6.2,8 l-2.2,3 M8.3,8 l-2.2,3"/></g>
<path d="M88,1.5 l8.5,6 l1,2.3 l-7.5,5.6 l-7.5,-5.4 l3.8,-4.6 z" fill="#e6b422" stroke="#9a6410" stroke-width="0.9"/>
<path d="M84,10 l6,4.2 l7,-4.8" fill="none" stroke="#f4e090" stroke-width="0.8"/>
<path d="M112,0 h11.5 v9 h-11.5 z" fill="#1a90f0"/><path d="M115.5,0.5 v8" stroke="#d0ecff" stroke-width="0.8"/><path d="M117.5,5.3 h4" stroke="#fff" stroke-width="1"/>
<path d="M111,15 a2.3,2.3 0 0 1 0.5,-4.3 a2.5,2.5 0 0 1 3.5,-1.5 a3.2,3.2 0 0 1 5.8,0 a2.5,2.5 0 0 1 4,3 a1.6,1.6 0 0 1 -0.5,2.8 z" fill="#e4e8ee" stroke="#4a6a9c" stroke-width="0.9"/>
<g fill="none" stroke-width="1.1"><path d="M146,15.8 a7.9,7.9 0 1 1 7.9,-7.9" stroke="#6a90d8"/><path d="M153.9,7.9 a7.9,7.9 0 0 1 -7.9,7.9" stroke="#40a050"/><path d="M146,12.5 a4.6,4.6 0 1 1 4.6,-4.6" stroke="#90b0e0"/><path d="M150.6,7.9 a4.6,4.6 0 0 1 -4.6,4.6" stroke="#70b880"/></g>
<circle cx="145.9" cy="7.9" r="1.6" fill="#2050c8"/><path d="M146.3,8 v7.8 h0.5" stroke="#18a020" stroke-width="1.2" fill="none"/>
<path d="M165.5,6.6 h15.5 l-8,9 z" fill="#f2dc50" stroke="#c89a18" stroke-width="0.8"/>
<ellipse cx="173" cy="4.8" rx="7.8" ry="2.6" fill="#60b8e8" stroke="#2a86b8" stroke-width="0.8"/><path d="M170,4 q0.5,-4 3,-4 q2.5,0 3,4 z" fill="#78c4ec" stroke="#2a86b8" stroke-width="0.6"/>
<circle cx="177.4" cy="11.5" r="4.1" fill="#e02a10" stroke="#b01808" stroke-width="0.6"/><rect x="176" y="10.1" width="3" height="2.9" fill="#fff"/>
<path d="M259.5,2.5 v13 M257.1,13.4 h13.199999999999978" stroke="#555" stroke-width="1.2" fill="none"/>
<path d="M257.9,4 l1.6,-2.2 l1.6,2.2 z M269.4,11.8 l2.2,1.6 l-2.2,1.6 z" fill="#555"/>
<path d="M265.4,3.1 v8.5 M265.4,4.5 h2.5 M263.1,10.5 h2.3" stroke="#108a18" stroke-width="1.2" fill="none"/>
<path d="M287.4,2.5 v13 M285.0,13.4 h13.3" stroke="#555" stroke-width="1.2" fill="none"/>
<path d="M285.79999999999995,4 l1.6,-2.2 l1.6,2.2 z M297.4,11.8 l2.2,1.6 l-2.2,1.6 z" fill="#555"/>
<path d="M293.4,0 v11.6" stroke="#10901a" stroke-width="1.1"/><rect x="291.5" y="2.6" width="4.2" height="7" fill="#40e050" stroke="#10901a" stroke-width="1"/>
<path d="M315.5,2.5 v13 M313.1,13.4 h13.3" stroke="#555" stroke-width="1.2" fill="none"/>
<path d="M313.9,4 l1.6,-2.2 l1.6,2.2 z M325.5,11.8 l2.2,1.6 l-2.2,1.6 z" fill="#555"/>
<path d="M314,10.6 q2.5,-5 6.3,-5.3 q2,0 5.4,4" stroke="#20a020" stroke-width="1" fill="none"/>
<path d="M355.6,10.6 l4.6,4.2" stroke="#a87010" stroke-width="3.4" stroke-linecap="square"/><path d="M355.6,10.6 l4.6,4.2" stroke="#f0d840" stroke-width="1.8"/>
<circle cx="351" cy="6" r="5.3" fill="#d8f0fa" stroke="#2a70c8" stroke-width="1.4"/>
<path d="M347.7,6 h6.6" stroke="#3a80b0" stroke-width="1.8"/>
<path d="M351,2.7 v6.6" stroke="#3a80b0" stroke-width="1.8"/>
<path d="M383.1,10.6 l4.6,4.2" stroke="#a87010" stroke-width="3.4" stroke-linecap="square"/><path d="M383.1,10.6 l4.6,4.2" stroke="#f0d840" stroke-width="1.8"/>
<circle cx="378.5" cy="6" r="5.3" fill="#d8f0fa" stroke="#2a70c8" stroke-width="1.4"/>
<path d="M375.2,6 h6.6" stroke="#3a80b0" stroke-width="1.8"/>
</g>
<g shape-rendering="crispEdges">
<rect x="401" y="0" width="8" height="8" fill="#32a02a"/>
<rect x="402" y="3" width="6" height="3" fill="#fff"/>
<rect x="403" y="4" width="4" height="1" fill="#32a02a"/>
<rect x="409" y="0" width="8" height="8" fill="#2058d0"/>
<rect x="410" y="3" width="6" height="3" fill="#fff"/>
<rect x="411" y="4" width="4" height="1" fill="#2058d0"/>
<rect x="401" y="8" width="8" height="8" fill="#2058d0"/>
<rect x="402" y="11" width="6" height="3" fill="#fff"/>
<rect x="403" y="12" width="4" height="1" fill="#2058d0"/>
<rect x="409" y="8" width="8" height="8" fill="#32a02a"/>
<rect x="410" y="11" width="6" height="3" fill="#fff"/>
<rect x="411" y="12" width="4" height="1" fill="#32a02a"/>
</g>
<g shape-rendering="geometricPrecision">
<path d="M439.5,2.5 v13 M437.1,13.4 h13.100000000000012" stroke="#555" stroke-width="1.2" fill="none"/>
<path d="M437.9,4 l1.6,-2.2 l1.6,2.2 z M449.3,11.8 l2.2,1.6 l-2.2,1.6 z" fill="#555"/>
<path d="M444.5,4.5 l3.8,3 l-3.8,3 z" fill="#60e060" stroke="#109018" stroke-width="0.9"/>
<path d="M467.5,2.5 v13 M465.1,13.4 h13.100000000000012" stroke="#555" stroke-width="1.2" fill="none"/>
<path d="M465.9,4 l1.6,-2.2 l1.6,2.2 z M477.3,11.8 l2.2,1.6 l-2.2,1.6 z" fill="#555"/>
<path d="M473.7,2 v9.8" stroke="#1a70b8" stroke-width="1.1"/><path d="M478.8,7.5 h-3.5 M475,7.5 l2,-1.6 v3.2 z" stroke="#e05010" stroke-width="1.1" fill="#e05010"/>
<path d="M498.5,0.8 h7 l3,3 v9.5 h-10 z" fill="#fdfdfd" stroke="#7a7a7a" stroke-width="1"/>
<path d="M501.5,3.5 v7" stroke="#6a5a40" stroke-width="0.8"/>
<path d="M503.3,6.2 h3.5 v4 h4 v3.2 h-4 v4 h-3.5 v-4 h-4 v-3.2 h4 z" fill="#22dd33" stroke="#0a8a14" stroke-width="1"/>
<path d="M520,7 h5.5 l-2.75,3.2 z" fill="#000"/>
<path d="M559,7 h5.5 l-2.75,3.2 z" fill="#000"/>
<path d="M598,7 h5.5 l-2.75,3.2 z" fill="#000"/>
<path d="M904,7 h5.5 l-2.75,3.2 z" fill="#000"/>
<circle cx="544" cy="8" r="7.2" fill="#1a78d8" stroke="#0a4aa0" stroke-width="0.8"/><circle cx="544" cy="8" r="5" fill="#f6f8fa"/><path d="M543.6,3.6 v4.4 h2.6" stroke="#202020" stroke-width="1.1" fill="none"/><rect x="542.5" y="0" width="3" height="1" fill="#1a78d8"/>
<rect x="575.5" y="1.3" width="15.5" height="13.4" fill="#fff" stroke="#3a78c8" stroke-width="1"/><rect x="576" y="1.8" width="14.5" height="2" fill="#8ab4e8"/><path d="M576,9 h14.5" stroke="#3a78c8" stroke-width="1"/><path d="M577.5,7.5 l2,-0.4 l2,-1 l2,0.6 l2,-0.6 l2,0.4 l1.5,-1" stroke="#a02010" stroke-width="1" fill="none"/><path d="M578,12.3 l2,-0.6 l2,0.4 l2,-1.4 l2,-1 l2,2" stroke="#10a020" stroke-width="1" fill="none"/>
<path d="M627.5,1 l8.2,8 l-3.4,0.2 l2.2,4.8 l-1.9,0.9 l-2.2,-4.8 l-2.9,2.3 z" fill="#555"/>
<path d="M652,8.3 h15 M659.5,1.2 v14.5" stroke="#555" stroke-width="1.2"/>
<path d="M693.4,2 v13 M716,8.3 h11.7 M744,14.9 l12,-12" stroke="#555" stroke-width="1.2"/>
<path d="M770.5,9.5 l9,-7.5 M772.5,13 l9,-7.5 M775,15 l8,-6.5 M774,8 l3,5 M777,5.5 l3,5 M780,3 l3,5 M782,0 l0.5,4" stroke="#555" stroke-width="0.9" fill="none"/>
<text x="781" y="16.8" font-size="7" fill="#404040" stroke="#404040" font-weight="bold">E</text>
<path d="M799,1.5 h13" stroke="#555" stroke-width="1" stroke-dasharray="1,1"/>
<path d="M799,4.5 h13" stroke="#555" stroke-width="1" stroke-dasharray="1,1"/>
<path d="M799,8.5 h13" stroke="#555" stroke-width="1" stroke-dasharray="1,1"/>
<path d="M799,12.5 h7" stroke="#555" stroke-width="1" stroke-dasharray="1,1"/>
<text x="808" y="16.8" font-size="7" fill="#404040" stroke="#404040" font-weight="bold">F</text>
<text x="829.5" y="13" font-size="11.5" fill="#555" stroke="#555" textLength="7.5" lengthAdjust="spacingAndGlyphs">A</text>
<rect x="856" y="2" width="11.5" height="12.5" fill="none" stroke="#666" stroke-width="1" stroke-dasharray="1,1"/>
<path d="M858.5,5 h6.5 M861.8,5 v8" stroke="#555" stroke-width="1.6"/>
<path d="M883,5 l3,-3 l3,3 l-3,2 z M890,12 l3,-2.2 l3,2.2 l-3,2.8 z" fill="#555"/><path d="M886,9 l2,2 l2.5,-3" stroke="#555" stroke-width="1.2" fill="none"/>
<circle cx="1646" cy="5.6" r="3.9" fill="none" stroke="#2a58d0" stroke-width="1.4"/><path d="M1643.3,8.3 l-4.4,4.6" stroke="#2a58d0" stroke-width="2.3"/>
<ellipse cx="1668.5" cy="10.2" rx="5.6" ry="4.3" fill="#eceef2" stroke="#b4b8c0" stroke-width="0.8"/><path d="M1665,13.8 l-0.8,2.8 l3,-2.2" fill="#c8ccd2"/>
<circle cx="1677" cy="6" r="7.8" fill="#d83018"/>
</g>
<text x="1674" y="10.3" font-size="10.5" fill="#fff" stroke="#fff">1</text>
<text x="930.7" y="12" font-size="9.7" fill="#333" stroke="#333" textLength="12.4" lengthAdjust="spacingAndGlyphs">M1</text>
<text x="958.8" y="12" font-size="9.7" fill="#333" stroke="#333" textLength="12.4" lengthAdjust="spacingAndGlyphs">M5</text>
<text x="984.9" y="12" font-size="9.7" fill="#333" stroke="#333" textLength="17.1" lengthAdjust="spacingAndGlyphs">M15</text>
<text x="1012.8" y="12" font-size="9.7" fill="#333" stroke="#333" textLength="17.1" lengthAdjust="spacingAndGlyphs">M30</text>
<text x="1043.7" y="12" font-size="9.7" fill="#333" stroke="#333" textLength="11.6" lengthAdjust="spacingAndGlyphs">H1</text>
<text x="1070.6" y="12" font-size="9.7" fill="#333" stroke="#333" textLength="12.2" lengthAdjust="spacingAndGlyphs">H4</text>
<text x="1099.7" y="12" font-size="9.7" fill="#333" stroke="#333" textLength="11.4" lengthAdjust="spacingAndGlyphs">D1</text>
<text x="1126.8" y="12" font-size="9.7" fill="#333" stroke="#333" textLength="14.3" lengthAdjust="spacingAndGlyphs">W1</text>
<text x="1153.7" y="12" font-size="9.7" fill="#333" stroke="#333" textLength="14.5" lengthAdjust="spacingAndGlyphs">MN</text>
</svg></body></html>
